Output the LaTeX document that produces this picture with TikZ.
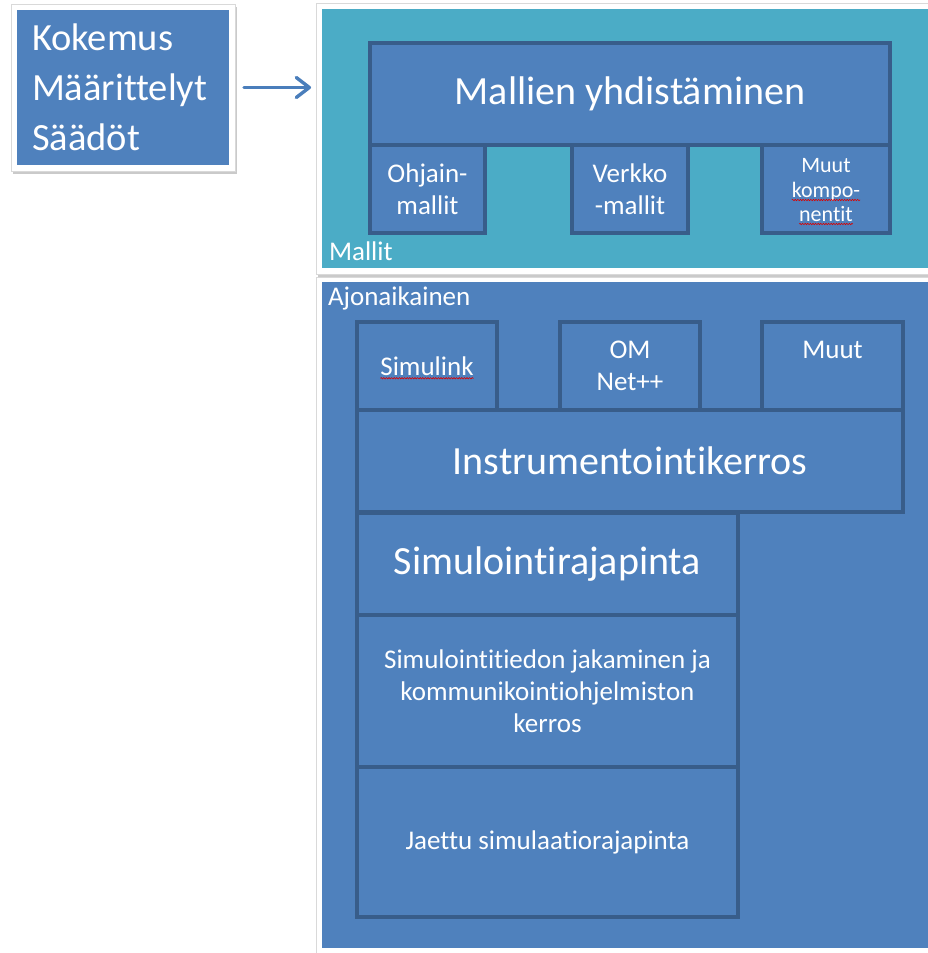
\documentclass[tikz,border=0pt]{standalone}
\usepackage{fontspec}
\setmainfont{Carlito}[Ligatures=NoCommon]
\usetikzlibrary{shadows,decorations.pathmorphing,arrows.meta}
\definecolor{boxfill}{HTML}{4F81BD}
\definecolor{boxline}{HTML}{385D8A}
\definecolor{tealfill}{HTML}{4BACC6}
\definecolor{arrowblue}{HTML}{4A7EBB}
\newcommand{\fsz}[2]{\fontsize{#1}{#2}\selectfont}
\begin{document}
\begin{tikzpicture}[x=1pt,y=-1pt,
  frame/.style={fill=white, draw=black!15, line width=0.6pt, inner sep=0, outer sep=0,
    drop shadow={shadow xshift=1.5pt, shadow yshift=-2.5pt, opacity=0.35, fill=black!60}},
  panel/.style={inner sep=0, outer sep=0},
  blk/.style={draw=boxline, fill=boxfill, line width=3.2pt, text=white, align=center,
    inner sep=0, outer sep=0},
  big/.style={font=\fsz{40}{44}},
  mid/.style={font=\fsz{27}{32}},
  small/.style={font=\fsz{22}{24.5}},
  txt/.style={text=white, inner sep=0, outer sep=0, align=center},
  squig/.style={draw=red!85!black, line width=0.6pt,
    decorate, decoration={snake, amplitude=0.7pt, segment length=2.6pt}},
  arr/.style={draw=arrowblue, line width=3.4pt, line cap=round,
    -{Straight Barb[length=13pt,width=20pt,round]}}
]
\useasboundingbox (0,0) rectangle (928,953);

% source box with white frame
\node[frame, minimum width=224, minimum height=167] (tlframe) at (123,87.5) {};
\node[panel, fill=boxfill, minimum width=212, minimum height=155, text width=182,
  inner xsep=15, align=left, text=white, font=\fsz{38.5}{50}] (tl) at (123,87.5)
  {Kokemus\\M\"a\"arittelyt\\S\"a\"ad\"ot};

% model panel
\node[frame, minimum width=624, minimum height=271] (mframe) at (628,138.5) {};
\node[panel, fill=tealfill, minimum width=613, minimum height=259] (mpanel) at (628.5,138.5) {};
\node[txt, mid, anchor=base west] (mlabel) at (329,260) {Mallit};

\node[blk, big, minimum width=520, minimum height=102] (mallien) at (630,94) {Mallien yhdist\"aminen};
\node[blk, mid, minimum width=115, minimum height=88] (ohjain) at (427.5,189) {Ohjain-\\mallit};
\node[blk, mid, minimum width=116, minimum height=88] (verkko) at (630,189) {Verkko\\-mallit};
\node[blk, minimum width=128, minimum height=88] (muutk) at (826,189) {};
\node[txt, small, anchor=base] (muutk1) at (826,172) {Muut};
\node[txt, small, anchor=base] (muutk2) at (826,197) {kompo-};
\node[txt, small, anchor=base] (muutk3) at (826,221) {nentit};
\draw[squig] ([yshift=-3pt]muutk2.base west) -- ([yshift=-3pt]muutk2.base east);
\draw[squig] ([yshift=-3pt]muutk3.base west) -- ([yshift=-3pt]muutk3.base east);

% arrow into the model panel
\draw[arr, shorten <=9pt, shorten >=5pt] (tlframe.east) -- (tlframe.east -| mframe.west);

% runtime panel
\node[frame, minimum width=624, minimum height=683] (aframe) at (628,618.5) {};
\node[panel, fill=boxfill, minimum width=613, minimum height=666] (apanel) at (628.5,615) {};
\node[txt, mid, anchor=base west] (alabel) at (328,305) {Ajonaikainen};

\node[blk, minimum width=140, minimum height=88] (simulink) at (427,366) {};
\node[txt, mid] (simulinkt) at (simulink) {Simulink};
\draw[squig] ([yshift=-3pt]simulinkt.base west) -- ([yshift=-3pt]simulinkt.base east);
\node[blk, mid, minimum width=140, minimum height=88] (omnet) at (630,366) {OM\\Net++};
\node[blk, mid, minimum width=141, minimum height=88] (muut) at (832.5,366) {Muut\\\phantom{Net++}};
\node[blk, big, minimum width=546, minimum height=102] (instr) at (630,461) {Instrumentointikerros};
\node[blk, big, minimum width=381, minimum height=102] (simrj) at (547.5,564) {Simulointirajapinta};
\node[blk, mid, minimum width=381, minimum height=152] (simtj) at (547.5,691)
  {Simulointitiedon jakaminen ja\\kommunikointiohjelmiston\\kerros};
\node[blk, mid, minimum width=381, minimum height=150] (jaettu) at (547.5,842) {Jaettu simulaatiorajapinta};
\end{tikzpicture}
\end{document}
